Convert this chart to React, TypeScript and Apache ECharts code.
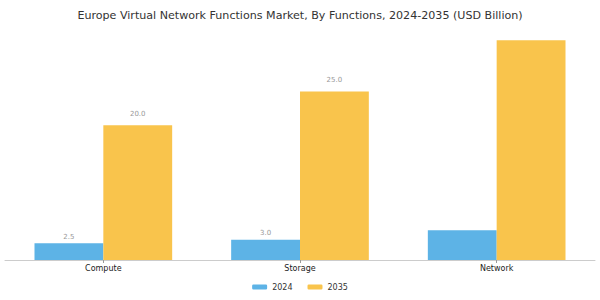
import React, { useEffect, useRef } from "react";
import * as echarts from "echarts";

const categories = ["Compute", "Storage", "Network"];
const values2024 = [2.5, 3.0, 4.4];
const values2035 = [20.0, 25.0, 32.6];
const labeled = [true, true, false];

export default function App() {
  const ref = useRef<HTMLDivElement>(null);
  useEffect(() => {
    if (!ref.current) return;
    const chart = echarts.init(ref.current, null, { renderer: "svg" });
    const mk = (vals: number[]) =>
      vals.map((v, i) => ({
        value: v,
        label: { show: labeled[i] },
      }));
    chart.setOption({
      animation: false,
      textStyle: { fontFamily: "DejaVu Sans" },
      title: {
        text: "Europe Virtual Network Functions Market, By Functions, 2024-2035 (USD Billion)",
        left: "center",
        top: 5,
        textStyle: { fontSize: 11.1, fontWeight: "normal", color: "#333", fontFamily: "DejaVu Sans" },
      },
      legend: {
        bottom: 4,
        left: "center",
        itemWidth: 15,
        itemHeight: 5,
        itemGap: 15,
        textStyle: { fontSize: 8, color: "#333" },
        data: ["2024", "2035"],
      },
      grid: { left: 5, right: 5, top: 24, bottom: 40, containLabel: false },
      xAxis: {
        type: "category",
        data: categories,
        axisLine: { lineStyle: { color: "#ccc" } },
        axisTick: { show: true, alignWithLabel: true, length: 3, lineStyle: { color: "#999" } },
        axisLabel: { fontSize: 8, color: "#222", margin: 4 },
      },
      yAxis: {
        type: "value",
        min: 0,
        max: 35,
        show: false,
        splitLine: { show: false },
      },
      series: [
        {
          name: "2024",
          type: "bar",
          data: mk(values2024),
          barWidth: "35%",
          barGap: "0%",
          itemStyle: { color: "#5DB3E6" },
          label: { position: "top", fontSize: 7, color: "#999", distance: 3, formatter: (p: any) => p.value.toFixed(1) },
        },
        {
          name: "2035",
          type: "bar",
          data: mk(values2035),
          barWidth: "35%",
          barGap: "0%",
          itemStyle: { color: "#F9C44C" },
          label: { position: "top", fontSize: 7, color: "#999", distance: 8, formatter: (p: any) => p.value.toFixed(1) },
        },
      ],
    });
    return () => chart.dispose();
  }, []);
  return <div ref={ref} style={{ width: 600, height: 300, position: "absolute", left: 0, top: 0 }} />;
}
